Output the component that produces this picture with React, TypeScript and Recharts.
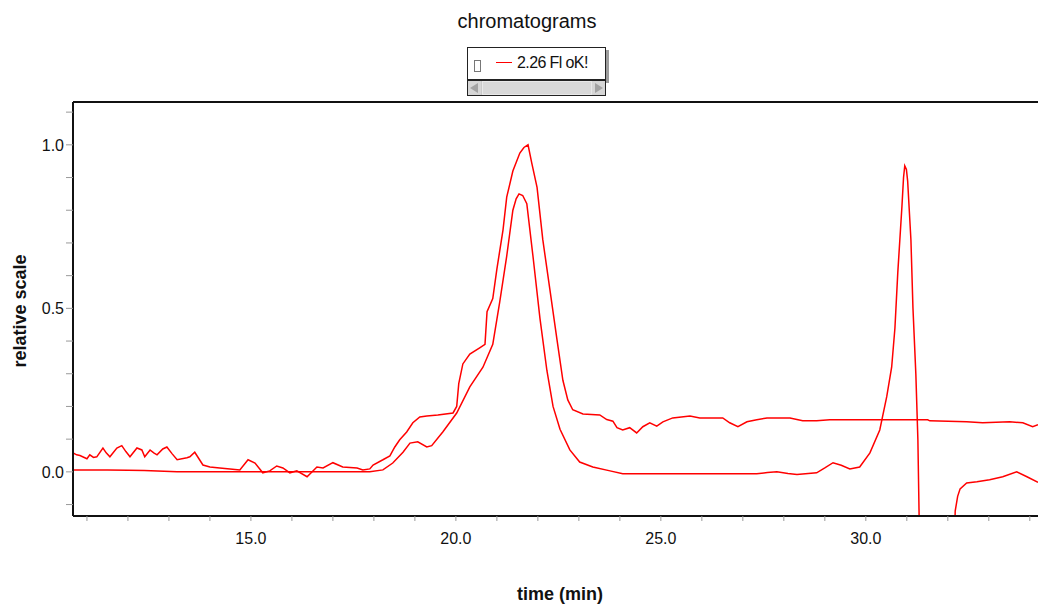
import { LineChart, Line, XAxis, YAxis, ReferenceLine } from 'recharts';

// time axis (min) and relative signal for the two traces
const upperTime = [
  10.66, 10.75, 10.83, 11.0, 11.07, 11.16, 11.24, 11.39, 11.47, 11.56, 11.73, 11.85, 11.95, 12.05, 12.22,
  12.34, 12.41, 12.54, 12.63, 12.71, 12.85, 12.95, 13.08, 13.2, 13.44, 13.51, 13.63, 13.83, 14.0, 14.24,
  14.49, 14.73, 14.93, 15.1, 15.29, 15.46, 15.63, 15.78, 15.95, 16.12, 16.37, 16.61, 16.76, 17.0, 17.24,
  17.59, 17.73, 17.9, 17.98, 18.22, 18.39, 18.51, 18.63, 18.8, 18.95, 19.12, 19.29, 19.56, 19.93, 20.02,
  20.07, 20.17, 20.34, 20.59, 20.71, 20.76, 20.9, 21.0, 21.15, 21.24, 21.39, 21.56, 21.66, 21.76, 21.85,
  21.98, 22.12, 22.29, 22.46, 22.61, 22.73, 22.85, 23.1, 23.51, 23.68, 23.83, 23.93, 24.07, 24.24, 24.41,
  24.56, 24.73, 24.9, 25.05, 25.29, 25.71, 25.95, 26.51, 26.68, 26.88, 27.1, 27.34, 27.59, 28.15, 28.46,
  28.8, 29.12, 31.51, 31.56, 32.46, 32.85, 33.51, 33.83, 34.07, 34.2,
];
const upperSignal = [
  0.058, 0.052, 0.05, 0.04, 0.052, 0.044, 0.046, 0.073, 0.058, 0.046, 0.073, 0.08, 0.062, 0.046, 0.073,
  0.067, 0.046, 0.067, 0.058, 0.052, 0.07, 0.076, 0.055, 0.037, 0.043, 0.046, 0.06, 0.021, 0.015, 0.012,
  0.009, 0.006, 0.037, 0.027, -0.003, 0.003, 0.018, 0.012, -0.003, 0.003, -0.015, 0.015, 0.012, 0.028, 0.015,
  0.012, 0.006, 0.009, 0.021, 0.037, 0.049, 0.076, 0.098, 0.122, 0.15, 0.168, 0.171, 0.174, 0.18, 0.2,
  0.27, 0.33, 0.36, 0.38, 0.39, 0.49, 0.53, 0.62, 0.74, 0.84, 0.92, 0.975, 0.992, 1.0, 0.945,
  0.87, 0.71, 0.56, 0.41, 0.28, 0.22, 0.19, 0.177, 0.174, 0.16, 0.155, 0.135, 0.128, 0.135, 0.119,
  0.138, 0.15, 0.14, 0.153, 0.165, 0.171, 0.165, 0.165, 0.15, 0.138, 0.153, 0.159, 0.165, 0.165, 0.156,
  0.156, 0.159, 0.159, 0.156, 0.153, 0.15, 0.153, 0.15, 0.138, 0.144,
];

const lowerTime = [
  10.66, 11.5, 12.0, 12.4, 13.2, 14.0, 15.0, 16.0, 17.0, 17.9, 18.22, 18.46, 18.71, 18.88, 19.07,
  19.29, 19.41, 19.68, 20.02, 20.34, 20.66, 20.9, 21.07, 21.24, 21.39, 21.47, 21.54, 21.63, 21.73, 21.88,
  22.05, 22.22, 22.37, 22.54, 22.78, 23.02, 23.34, 23.76, 24.07, 25.5, 27.34, 27.6, 27.83, 28.1, 28.32,
  28.8, 29.0, 29.2, 29.4, 29.61, 29.85, 30.1, 30.34, 30.51, 30.63, 30.71, 30.78, 30.88, 30.92, 30.95,
  30.99, 31.02, 31.1, 31.15, 31.22, 31.27, 31.36, 32.1, 32.18, 32.24, 32.3, 32.46, 32.71, 33.02, 33.34,
  33.68, 33.93, 34.2,
];
const lowerSignal = [
  0.006, 0.006, 0.005, 0.004, 0.0, 0.0, 0.0, 0.0, 0.0, 0.0, 0.006, 0.027, 0.06, 0.088, 0.092,
  0.076, 0.08, 0.122, 0.18, 0.26, 0.32, 0.39, 0.52, 0.66, 0.8, 0.835, 0.85, 0.845, 0.82, 0.66,
  0.47, 0.31, 0.2, 0.13, 0.067, 0.03, 0.015, 0.003, -0.006, -0.006, -0.006, -0.002, 0.0, -0.005, -0.008,
  -0.003, 0.012, 0.028, 0.02, 0.009, 0.015, 0.058, 0.128, 0.23, 0.32, 0.44, 0.61, 0.81, 0.9, 0.936,
  0.925, 0.89, 0.71, 0.5, 0.3, 0.098, -0.6, -0.6, -0.12, -0.075, -0.052, -0.034, -0.03, -0.024, -0.015,
  0.0, -0.015, -0.032,
];

const xTicks = [11, 12, 13, 14, 15, 16, 17, 18, 19, 20, 21, 22, 23, 24, 25, 26, 27, 28, 29, 30, 31, 32, 33, 34];
const yTicks = [-0.1, 0, 0.1, 0.2, 0.3, 0.4, 0.5, 0.6, 0.7, 0.8, 0.9, 1.0, 1.1];

const seriesName = '2.26 Fl oK!';
const X_DOMAIN = [10.66, 34.2];
const Y_DOMAIN = [-0.135, 1.131];

const zip = (t: number[], v: number[]) => t.map((x, i) => ({ t: x, v: v[i] }));
const upperData = zip(upperTime, upperSignal);
const lowerData = zip(lowerTime, lowerSignal);

const FONT = '"Liberation Sans", Arial, sans-serif';
const RED = '#ff0000';

const fmtX = (v: number) => (v % 5 === 0 ? v.toFixed(1) : '');
const fmtY = (v: number) => (Math.round(v * 10) % 5 === 0 ? v.toFixed(1) : '');

function ScrollBar() {
  return (
    <div style={{
      position: 'absolute', left: 467, top: 79, width: 139, height: 17, boxSizing: 'border-box',
      border: '1px solid #222', borderTopWidth: 2, background: '#c9c9c9',
    }}>
      <div style={{ position: 'absolute', left: 0, top: 0, width: 13, height: 14, background: '#d6d6d6' }}>
        <div style={{
          position: 'absolute', left: 2, top: 2, width: 0, height: 0,
          borderTop: '5px solid transparent', borderBottom: '5px solid transparent', borderRight: '8px solid #a3a3a3',
        }} />
      </div>
      <div style={{
        position: 'absolute', left: 14, top: 0, width: 110, height: 14, boxSizing: 'border-box',
        background: '#d8d8d8', border: '1px solid #e8e8e8',
      }} />
      <div style={{ position: 'absolute', right: 0, top: 0, width: 13, height: 14, background: '#d6d6d6' }}>
        <div style={{
          position: 'absolute', left: 3, top: 2, width: 0, height: 0,
          borderTop: '5px solid transparent', borderBottom: '5px solid transparent', borderLeft: '8px solid #a3a3a3',
        }} />
      </div>
    </div>
  );
}

function LegendBox() {
  return (
    <>
      <div style={{ position: 'absolute', left: 606, top: 50, width: 3, height: 33, background: '#9c9c9c' }} />
      <div style={{
        position: 'absolute', left: 467, top: 47, width: 139, height: 33, boxSizing: 'border-box',
        border: '1px solid #222', background: '#fff',
      }}>
        <div style={{
          position: 'absolute', left: 6, top: 12, width: 7, height: 12, boxSizing: 'border-box',
          border: '1px solid #777',
        }} />
        <div style={{ position: 'absolute', left: 28, top: 14, width: 16, height: 1, background: RED }} />
        <div style={{
          position: 'absolute', left: 49, top: 5, fontFamily: FONT, fontSize: 16, lineHeight: '20px',
          letterSpacing: -0.6, color: '#111', whiteSpace: 'nowrap',
        }}>{seriesName}</div>
      </div>
      <ScrollBar />
    </>
  );
}

export default function App() {
  return (
    <div style={{ position: 'absolute', left: 0, top: 0, width: 1038, height: 605, background: '#fff', fontFamily: FONT }}>
      <LineChart width={1038} height={605} margin={{ top: 102, right: 0, bottom: 49, left: 13 }}>
        <XAxis
          dataKey="t"
          type="number"
          domain={X_DOMAIN}
          allowDataOverflow
          ticks={xTicks}
          interval={0}
          tickFormatter={fmtX}
          height={40}
          tickSize={5}
          tickMargin={12}
          tickLine={{ stroke: '#9a9a9a' }}
          axisLine={{ stroke: '#111', strokeWidth: 2 }}
          tick={{ fontSize: 16, fill: '#111', fontFamily: FONT }}
        />
        <YAxis
          type="number"
          domain={Y_DOMAIN}
          allowDataOverflow
          ticks={yTicks}
          interval={0}
          tickFormatter={fmtY}
          width={60}
          tickSize={7}
          tickMargin={2}
          tickLine={{ stroke: '#9a9a9a' }}
          axisLine={{ stroke: '#111', strokeWidth: 2 }}
          tick={{ fontSize: 16, fill: '#111', fontFamily: FONT }}
        />
        <ReferenceLine y={Y_DOMAIN[1]} stroke="#111" strokeWidth={2} />
        <Line data={upperData} dataKey="v" name={seriesName} type="linear" stroke={RED} strokeWidth={1.5}
          dot={false} isAnimationActive={false} />
        <Line data={lowerData} dataKey="v" name={seriesName} type="linear" stroke={RED} strokeWidth={1.5}
          dot={false} isAnimationActive={false} />
      </LineChart>

      <div style={{
        position: 'absolute', left: 527, top: 8, transform: 'translateX(-50%)', fontSize: 20,
        lineHeight: '26px', color: '#111', whiteSpace: 'nowrap',
      }}>chromatograms</div>
      <LegendBox />
      <div style={{
        position: 'absolute', left: 20, top: 311, transform: 'translate(-50%, -50%) rotate(-90deg)',
        fontSize: 18, fontWeight: 'bold', color: '#111', whiteSpace: 'nowrap',
      }}>relative scale</div>
      <div style={{
        position: 'absolute', left: 560, top: 594, transform: 'translate(-50%, -50%)',
        fontSize: 18, fontWeight: 'bold', color: '#111', whiteSpace: 'nowrap',
      }}>time (min)</div>
    </div>
  );
}
